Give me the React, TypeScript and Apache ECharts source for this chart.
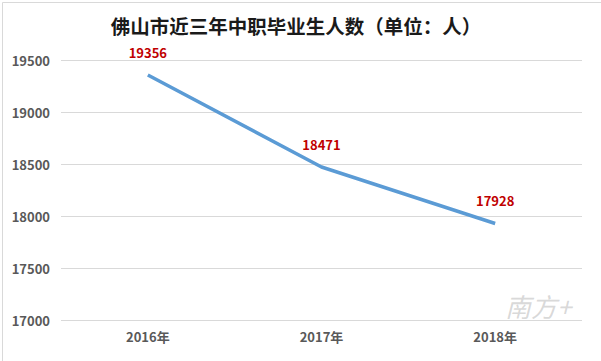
import React, { useEffect, useRef } from "react";
import * as echarts from "echarts";

const title = "佛山市近三年中职毕业生人数（单位：人）";
const categories = ["2016年", "2017年", "2018年"];
const values = [19356, 18471, 17928];
const yMin = 17000;
const yMax = 19500;
const yInterval = 500;

export default function App() {
  const ref = useRef<HTMLDivElement>(null);
  useEffect(() => {
    if (!ref.current) return;
    const chart = echarts.init(ref.current, null, { renderer: "svg" });
    const font = "'Microsoft YaHei', 'Noto Sans CJK SC', 'Liberation Sans', sans-serif";
    chart.setOption({
      animation: false,
      backgroundColor: "#ffffff",
      title: {
        text: title,
        left: 296,
        textAlign: "center",
        top: 16,
        padding: 0,
        textStyle: { fontSize: 19.5, fontWeight: "bold", color: "#1a1a1a", fontFamily: font },
      },
      grid: { left: 61, right: 19, top: 60, bottom: 41 },
      xAxis: {
        type: "category",
        data: categories,
        boundaryGap: true,
        axisLine: { show: false },
        axisTick: { show: false },
        axisLabel: { color: "#595959", fontSize: 13, fontWeight: "bold", margin: 10, fontFamily: font },
      },
      yAxis: {
        type: "value",
        min: yMin,
        max: yMax,
        interval: yInterval,
        axisLine: { show: false },
        axisTick: { show: false },
        axisLabel: {
          color: "#595959",
          fontSize: 13,
          fontWeight: "bold",
          margin: 11,
          fontFamily: font,
          formatter: (v: number) => String(v),
        },
        splitLine: { lineStyle: { color: "#d9d9d9", width: 1 } },
      },
      series: [
        {
          type: "line",
          data: values,
          showSymbol: true,
          symbol: "circle",
          symbolSize: 2,
          itemStyle: { color: "rgba(91,155,213,0)", borderWidth: 0 },
          lineStyle: { color: "#5b9bd5", width: 3.5 },
          label: {
            show: true,
            position: "top",
            distance: 15,
            color: "#c00000",
            fontSize: 13,
            fontWeight: "bold",
            fontFamily: font,
          },
        },
      ],
      graphic: [
        {
          type: "rect",
          left: 0,
          top: 0,
          shape: { x: 0.5, y: 0.5, width: 599, height: 359 },
          style: { fill: "none", stroke: "#d9d9d9", lineWidth: 1 },
          silent: true,
        },
        {
          type: "text",
          left: 505,
          top: 292,
          style: {
            text: "南方+",
            fontSize: 26,
            fontStyle: "italic",
            fill: "rgba(170,170,170,0.45)",
            fontFamily: font,
          },
          silent: true,
        },
      ],
    });
    return () => chart.dispose();
  }, []);
  return (
    <div
      ref={ref}
      style={{ position: "absolute", left: 0, top: 0, width: 601, height: 361 }}
    />
  );
}
